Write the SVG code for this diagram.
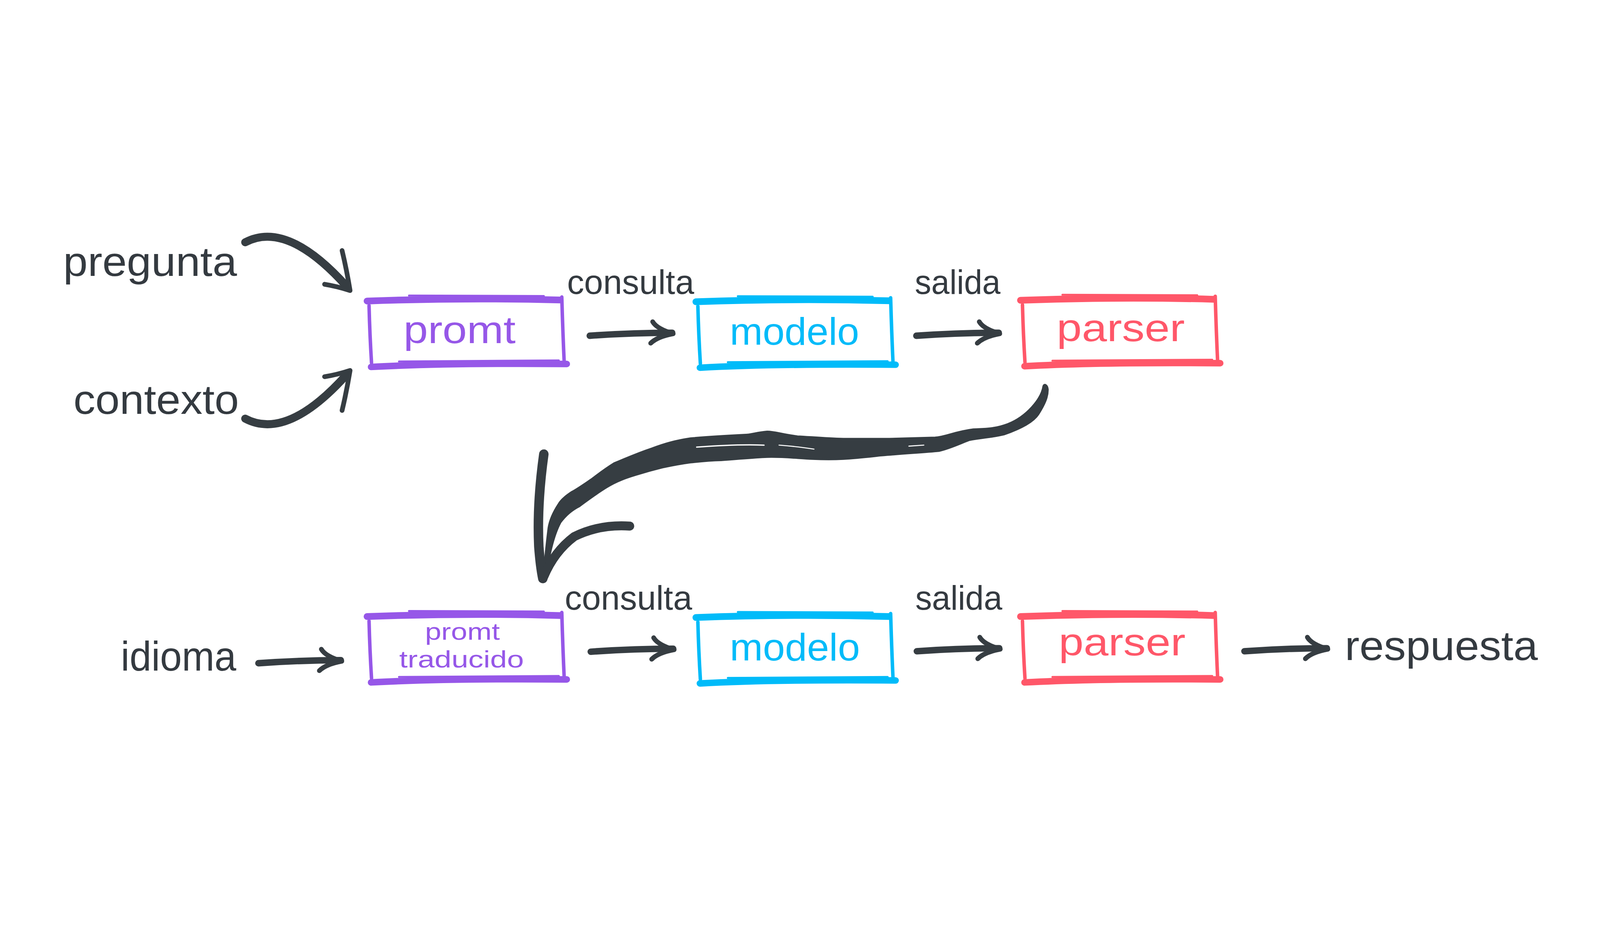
<svg xmlns="http://www.w3.org/2000/svg" width="6408" height="2367" viewBox="0 0 6408 2367" style="width:100vw;height:100vh;display:block">
<style>
.t{font-family:"Liberation Sans",Arial,sans-serif;fill:#343a40}
.big{font-size:165px}
.lab{font-size:135px}
.nl{font-size:155px}
.sm{font-size:96px}
.ink{fill:none;stroke:#363d42;stroke-linecap:round;stroke-linejoin:round}
.edge{fill:none;stroke:currentColor;stroke-linecap:round;stroke-linejoin:round}
</style>
<defs>
<g id="box">
<path class="edge" d="M -8 14 Q 380 0 765 10" stroke-width="27"/>
<path class="edge" d="M 160 -8 L 700 -6" stroke-width="8"/>
<path class="edge" d="M 772 -2 Q 776 140 782 268" stroke-width="14"/>
<path class="edge" d="M 0 32 Q 3 150 10 262" stroke-width="14"/>
<path class="edge" d="M 8 278 Q 300 262 792 266" stroke-width="26"/>
<path class="edge" d="M 120 256 L 760 252" stroke-width="8"/>
</g>
<g id="arr">
<path class="ink" d="M 0 8 Q 170 -4 330 -4" stroke-width="26"/>
<path class="ink" d="M 252 -48 Q 268 -20 334 0 Q 270 12 244 38" stroke-width="19"/>
</g>
</defs>
<rect width="6408" height="2367" fill="#ffffff"/>

<g id="connectors">
<path class="ink" d="M 982 302 C 1080 250 1210 280 1388 478" stroke-width="32"/>
<path class="ink" d="M 1370 335 Q 1388 410 1402 495 Q 1350 478 1300 470" stroke-width="19"/>
<path class="ink" d="M 982 1008 C 1080 1060 1210 1030 1388 832" stroke-width="32"/>
<path class="ink" d="M 1370 975 Q 1388 900 1402 815 Q 1350 832 1300 840" stroke-width="19"/>
<use href="#arr" transform="translate(2362,668)"/>
<use href="#arr" transform="translate(3670,668)"/>
<use href="#arr" transform="translate(1035,1979)"/>
<use href="#arr" transform="translate(2366,1933)"/>
<use href="#arr" transform="translate(3672,1931)"/>
<use href="#arr" transform="translate(4984,1931)"/>
<path d="M 4178 878 C 4170 930 4110 1000 4036 1029 C 3980 1050 3940 1048 3898 1050 C 3820 1060 3790 1080 3745 1083 L 3562 1088 L 3378 1088 C 3300 1086 3240 1080 3194 1078 C 3130 1070 3100 1058 3072 1059 C 3030 1062 3010 1072 2980 1072 C 2900 1076 2830 1080 2765 1086 C 2700 1096 2660 1108 2612 1126 C 2540 1150 2500 1170 2459 1186 C 2420 1210 2395 1230 2367 1251 C 2330 1276 2310 1290 2291 1300 C 2260 1320 2245 1335 2237 1349 C 2210 1390 2200 1420 2196 1446 C 2188 1510 2182 1570 2176 1640 L 2186 1642 C 2200 1560 2215 1480 2245 1424 C 2270 1390 2295 1372 2321 1359 C 2360 1330 2395 1305 2429 1284 C 2470 1258 2510 1245 2546 1234 C 2590 1220 2620 1212 2653 1204 C 2700 1194 2735 1188 2765 1184 C 2820 1178 2850 1176 2888 1175 C 2960 1170 3020 1164 3072 1162 C 3140 1160 3200 1168 3255 1170 C 3300 1172 3340 1172 3378 1170 C 3440 1166 3490 1160 3531 1156 C 3620 1148 3700 1144 3761 1138 C 3810 1126 3850 1106 3883 1094 C 3940 1084 3980 1082 4021 1072 C 4090 1048 4140 1020 4159 991 C 4185 950 4198 920 4197 890 C 4195 872 4182 866 4178 878 Z" fill="#363d42" stroke="#363d42" stroke-width="6" stroke-linejoin="round"/>
<path d="M 2790 1122 Q 2950 1110 3060 1114" fill="none" stroke="#ffffff" stroke-width="5" stroke-linecap="round"/>
<path d="M 3120 1114 Q 3200 1120 3260 1130" fill="none" stroke="#ffffff" stroke-width="4" stroke-linecap="round"/>
<path d="M 3640 1118 L 3700 1114" fill="none" stroke="#ffffff" stroke-width="4" stroke-linecap="round"/>
<path class="ink" d="M 2178 1150 Q 2150 1350 2158 1520 Q 2164 1600 2174 1648" stroke-width="38"/>
<path class="ink" d="M 2522 1438 Q 2400 1430 2300 1480 Q 2220 1540 2178 1640" stroke-width="36"/>
</g>

<g id="pregunta"><text class="t big" x="253" y="437" textLength="696" lengthAdjust="spacingAndGlyphs">pregunta</text></g>
<g id="contexto"><text class="t big" x="294" y="989" textLength="663" lengthAdjust="spacingAndGlyphs">contexto</text></g>

<g id="promt" style="color:#9657e8">
<use href="#box" transform="translate(1478,523)"/>
<text class="t nl" x="1616" y="706" textLength="449" lengthAdjust="spacingAndGlyphs" style="fill:#9657e8">promt</text>
</g>
<g id="consulta1"><text class="t lab" x="2271" y="509" textLength="509" lengthAdjust="spacingAndGlyphs">consulta</text></g>
<g id="modelo" style="color:#00bbf9">
<use href="#box" transform="translate(2795,526)"/>
<text class="t nl" x="2923" y="712" textLength="518" lengthAdjust="spacingAndGlyphs" style="fill:#00bbf9">modelo</text>
</g>
<g id="salida1"><text class="t lab" x="3664" y="509" textLength="343" lengthAdjust="spacingAndGlyphs">salida</text></g>
<g id="parser" style="color:#ff5769">
<use href="#box" transform="translate(4095,520)"/>
<text class="t nl" x="4232" y="697" textLength="513" lengthAdjust="spacingAndGlyphs" style="fill:#ff5769">parser</text>
</g>

<g id="idioma"><text class="t big" x="484" y="2016" textLength="462" lengthAdjust="spacingAndGlyphs">idioma</text></g>
<g id="promt_traducido" style="color:#9657e8">
<use href="#box" transform="translate(1478,1786)"/>
<text class="t sm" x="1702" y="1893" textLength="300" lengthAdjust="spacingAndGlyphs" style="fill:#9657e8">promt</text>
<text class="t sm" x="1599" y="2004" textLength="499" lengthAdjust="spacingAndGlyphs" style="fill:#9657e8">traducido</text>
</g>
<g id="consulta2"><text class="t lab" x="2262" y="1772" textLength="510" lengthAdjust="spacingAndGlyphs">consulta</text></g>
<g id="modelo2" style="color:#00bbf9">
<use href="#box" transform="translate(2795,1790)"/>
<text class="t nl" x="2923" y="1976" textLength="521" lengthAdjust="spacingAndGlyphs" style="fill:#00bbf9">modelo</text>
</g>
<g id="salida2"><text class="t lab" x="3666" y="1772" textLength="348" lengthAdjust="spacingAndGlyphs">salida</text></g>
<g id="parser2" style="color:#ff5769">
<use href="#box" transform="translate(4095,1786)"/>
<text class="t nl" x="4240" y="1956" textLength="508" lengthAdjust="spacingAndGlyphs" style="fill:#ff5769">parser</text>
</g>
<g id="respuesta"><text class="t big" x="5386" y="1975" textLength="773" lengthAdjust="spacingAndGlyphs">respuesta</text></g>
</svg>
